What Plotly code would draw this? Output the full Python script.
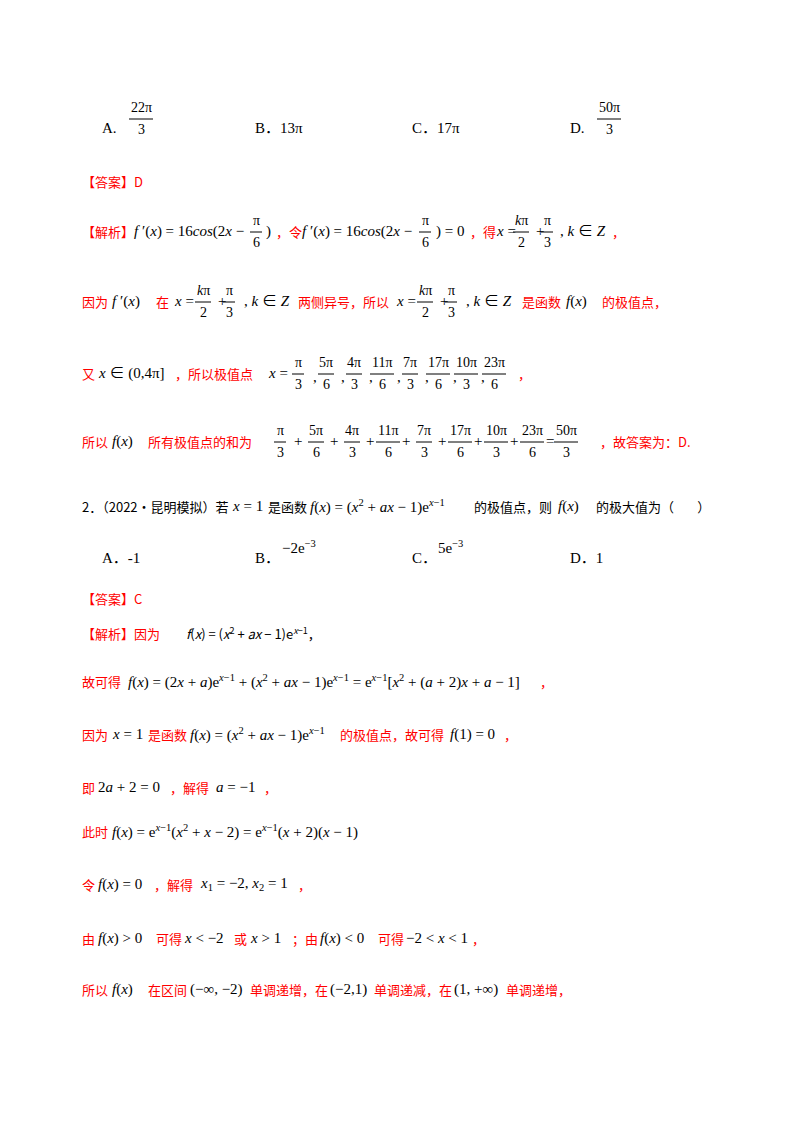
import plotly.graph_objects as go

RED = "#ff0000"
BLK = "#000000"
SERIF = "Liberation Serif, Noto Sans CJK SC"
CJK = "Noto Sans CJK SC"
DY = -7  # vertical nudge of all text

# (x, y, text, colour) segments per line
segments = [
    (92, 127, "A.", BLK), (245, 127, "B．13π", BLK), (402, 127, "C．17π", BLK), (560, 127, "D.", BLK),
    (72, 180, "【答案】D", RED),
    (72, 230, "【解析】", RED), (124, 230, "<i>f</i> ′(<i>x</i>) = 16<i>cos</i>(2<i>x</i> −", BLK),
    (256, 230, ")", BLK), (266, 230, "，令", RED),
    (292, 230, "<i>f</i> ′(<i>x</i>) = 16<i>cos</i>(2<i>x</i> −", BLK), (426, 230, ") = 0", BLK),
    (460, 230, "，得", RED), (486, 230, "<i>x</i> =", BLK), (526, 230, "+", BLK),
    (550, 230, ", <i>k</i> ∈ <i>Z</i>", BLK), (602, 230, "，", RED),
    (72, 300, "因为", RED), (102, 300, "<i>f</i> ′(<i>x</i>)", BLK), (146, 300, "在", RED),
    (164, 300, "<i>x</i> =", BLK), (208, 300, "+", BLK), (234, 300, ", <i>k</i> ∈ <i>Z</i>", BLK),
    (288, 300, "两侧异号，所以", RED), (386, 300, "<i>x</i> =", BLK), (430, 300, "+", BLK),
    (456, 300, ", <i>k</i> ∈ <i>Z</i>", BLK), (512, 300, "是函数", RED),
    (556, 300, "<i>f</i>(<i>x</i>)", BLK), (592, 300, "的极值点，", RED),
    (72, 372, "又", RED), (88, 372, "<i>x</i> ∈ (0,4π]", BLK), (165, 372, "，所以极值点", RED),
    (258, 372, "<i>x</i> =", BLK), (508, 372, "，", RED),
    (72, 440, "所以", RED), (102, 440, "<i>f</i>(<i>x</i>)", BLK), (138, 440, "所有极值点的和为", RED),
    (590, 440, "，故答案为：D.", RED),
    (72, 505, "2．（2022·昆明模拟）若", BLK), (222, 505, "<i>x</i> = 1", BLK), (258, 505, "是函数", BLK),
    (300, 505, "<i>f</i>(<i>x</i>) = (<i>x</i><sup>2</sup> + <i>ax</i> − 1)e<sup><i>x</i>−1</sup>", BLK),
    (464, 505, "的极值点，则", BLK), (548, 505, "<i>f</i>(<i>x</i>)", BLK), (586, 505, "的极大值为（        ）", BLK),
    (92, 557, "A．-1", BLK), (245, 557, "B．", BLK), (272, 546, "−2e<sup>−3</sup>", BLK),
    (402, 557, "C．", BLK), (428, 546, "5e<sup>−3</sup>", BLK), (560, 557, "D．1", BLK),
    (72, 597, "【答案】C", RED),
    (72, 632, "【解析】因为", RED),
    (176, 632, "<i>f</i>(<i>x</i>) = (<i>x</i><sup>2</sup> + <i>ax</i> − 1)e<sup><i>x</i>−1</sup>，", BLK),
    (72, 680, "故可得", RED),
    (118, 680, "<i>f</i>(<i>x</i>) = (2<i>x</i> + <i>a</i>)e<sup><i>x</i>−1</sup> + (<i>x</i><sup>2</sup> + <i>ax</i> − 1)e<sup><i>x</i>−1</sup> = e<sup><i>x</i>−1</sup>[<i>x</i><sup>2</sup> + (<i>a</i> + 2)<i>x</i> + <i>a</i> − 1]", BLK),
    (530, 680, "，", RED),
    (72, 733, "因为", RED), (102, 733, "<i>x</i> = 1", BLK), (138, 733, "是函数", RED),
    (180, 733, "<i>f</i>(<i>x</i>) = (<i>x</i><sup>2</sup> + <i>ax</i> − 1)e<sup><i>x</i>−1</sup>", BLK),
    (330, 733, "的极值点，故可得", RED), (440, 733, "<i>f</i>(1) = 0", BLK), (494, 733, "，", RED),
    (72, 786, "即", RED), (88, 786, "2<i>a</i> + 2 = 0", BLK), (160, 786, "，解得", RED),
    (206, 786, "<i>a</i> = −1", BLK), (254, 786, "，", RED),
    (72, 830, "此时", RED),
    (102, 830, "<i>f</i>(<i>x</i>) = e<sup><i>x</i>−1</sup>(<i>x</i><sup>2</sup> + <i>x</i> − 2) = e<sup><i>x</i>−1</sup>(<i>x</i> + 2)(<i>x</i> − 1)", BLK),
    (72, 883, "令", RED), (88, 883, "<i>f</i>(<i>x</i>) = 0", BLK), (144, 883, "，解得", RED),
    (190, 883, "<i>x</i><sub>1</sub> = −2, <i>x</i><sub>2</sub> = 1", BLK), (288, 883, "，", RED),
    (72, 937, "由", RED), (88, 937, "<i>f</i>(<i>x</i>) > 0", BLK), (146, 937, "可得", RED),
    (174, 937, "<i>x</i> < −2", BLK), (224, 937, "或", RED), (240, 937, "<i>x</i> > 1", BLK),
    (282, 937, "；由", RED), (310, 937, "<i>f</i>(<i>x</i>) < 0", BLK), (368, 937, "可得", RED),
    (396, 937, "−2 < <i>x</i> < 1", BLK), (462, 937, "，", RED),
    (72, 988, "所以", RED), (102, 988, "<i>f</i>(<i>x</i>)", BLK), (138, 988, "在区间", RED),
    (180, 988, "(−∞, −2)", BLK), (240, 988, "单调递增，在", RED), (320, 988, "(−2,1)", BLK),
    (364, 988, "单调递减，在", RED), (444, 988, "(1, +∞)", BLK), (496, 988, "单调递增，", RED),
]

# (centre x, line y, numerator, denominator)
fractions = [
    (133, 117, "22π", "3"), (601, 117, "50π", "3"),
    (248, 230, "π", "6"), (417, 230, "π", "6"), (513, 230, "<i>k</i>π", "2"), (539, 230, "π", "3"),
    (195, 300, "<i>k</i>π", "2"), (221, 300, "π", "3"), (417, 300, "<i>k</i>π", "2"), (443, 300, "π", "3"),
]
extreme_nums = ["π", "5π", "4π", "11π", "7π", "17π", "10π", "23π"]
extreme_dens = ["3", "6", "3", "6", "3", "6", "3", "6"]
sum_result = ("50π", "3")

annotations = []
shapes = []


def is_cjk(s):
    return any("\u4e00" <= ch <= "\u9fff" or ch in "【】（），；：" for ch in s)


def txt(x, y, s, c, size=None, anchor="left"):
    cjk = c == RED or is_cjk(s)
    if size is None:
        size = 13 if cjk else 15
    annotations.append(dict(x=x, y=y + DY, text=s, showarrow=False, xanchor=anchor, yanchor="middle",
                            font=dict(family=CJK if cjk else SERIF, size=size, color=c)))


def frac(cx, y, num, den):
    w = max(12, 8 * len(num.replace("<i>", "").replace("</i>", "")))
    txt(cx, y - 11, num, BLK, 14, "center")
    txt(cx, y + 11, den, BLK, 14, "center")
    shapes.append(dict(type="line", x0=cx - w / 2, x1=cx + w / 2, y0=y + DY + 1, y1=y + DY + 1,
                       line=dict(color=BLK, width=1)))


for x, y, s, c in segments:
    txt(x, y, s, c)
for cx, y, n, d in fractions:
    frac(cx, y, n, d)

# extreme points list
cx = 290
for i, (n, d) in enumerate(zip(extreme_nums, extreme_dens)):
    frac(cx, 372, n, d)
    if i < len(extreme_nums) - 1:
        txt(cx + 13, 376, ",", BLK)
    cx += 28

# sum of extreme points
cx = 272
for i, (n, d) in enumerate(zip(extreme_nums, extreme_dens)):
    frac(cx, 440, n, d)
    txt(cx + 18, 440, "+" if i < len(extreme_nums) - 1 else "=", BLK, anchor="center")
    cx += 36
frac(cx - 2, 440, *sum_result)

fig = go.Figure()
fig.update_layout(
    width=800, height=1132, margin=dict(l=0, r=0, t=0, b=0),
    paper_bgcolor="white", plot_bgcolor="white",
    xaxis=dict(range=[0, 800], visible=False, fixedrange=True),
    yaxis=dict(range=[1132, 0], visible=False, fixedrange=True),
    annotations=annotations, shapes=shapes, showlegend=False,
)
fig.write_html("out.html")
